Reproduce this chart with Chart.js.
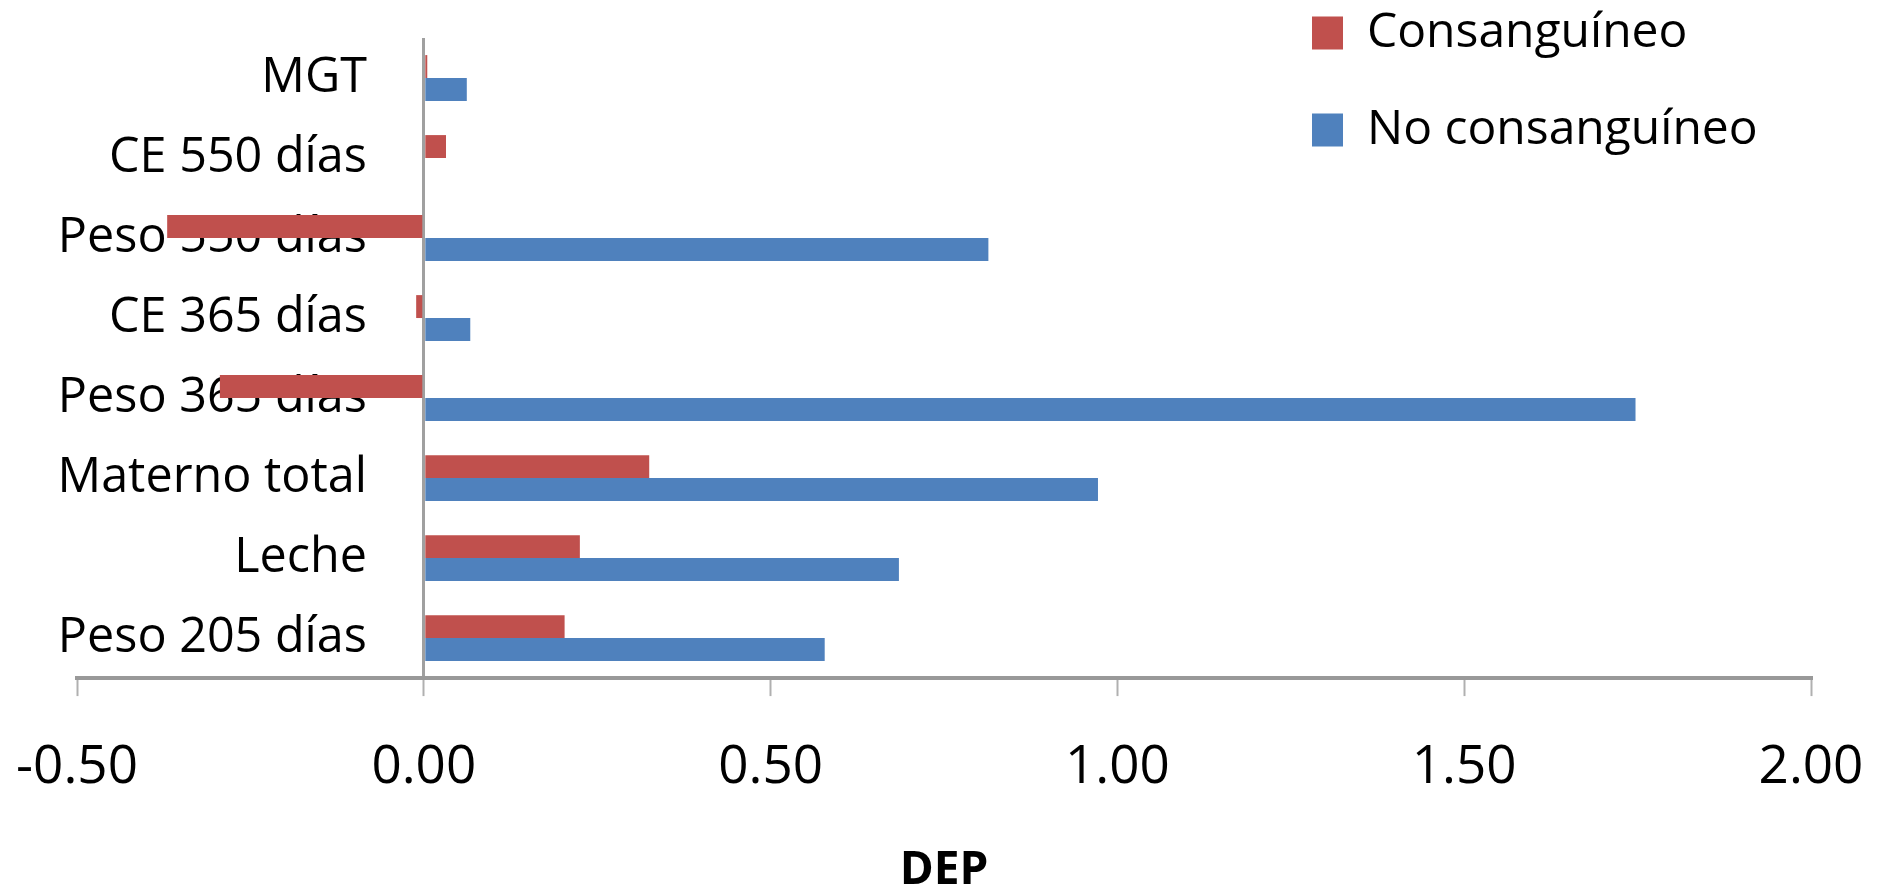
<!DOCTYPE html>
<html>
<head>
<meta charset="utf-8">
<script src="https://cdn.jsdelivr.net/npm/chart.js@4/dist/chart.umd.min.js"></script>
<style>
  html, body { margin: 0; padding: 0; background: #fff; }
  #wrap { width: 1881px; height: 894px; }
</style>
</head>
<body>
<div id="wrap"><canvas id="barChart" width="1881" height="894"></canvas></div>
<script>
// categories, top to bottom as in the figure
const LABELS = ["MGT", "CE 550 días", "Peso 550 días", "CE 365 días", "Peso 365 días", "Materno total", "Leche", "Peso 205 días"]
const CONSANG = [0.005, 0.032, -0.370, -0.011, -0.294, 0.325, 0.225, 0.203]
const NO_CONSANG = [0.062, 0, 0.814, 0.067, 1.747, 0.972, 0.685, 0.578]
const X_TICKS = [-0.5, 0, 0.5, 1.0, 1.5, 2.0]

Chart.defaults.font.family = "'Open Sans', 'DejaVu Sans', sans-serif"
Chart.defaults.color = "#000"

// legend floats over the plot, top right
const moveLegend = {
    id: "moveLegend",
    beforeDraw(chart) {
        const lg = chart.legend
        lg.left = 1263
        lg.top = -40
        lg.bottom = 500
        lg.right = 1881
    }
}

const ctx = document.getElementById("barChart").getContext("2d")
const myBar = new Chart(ctx, {
    type: "bar",
    data: {
        labels: LABELS,
        datasets: [{
            label: "Consanguíneo",
            data: CONSANG,
            backgroundColor: "#C0504D",
            categoryPercentage: 0.573,
            barPercentage: 1
        }, {
            label: "No consanguíneo",
            data: NO_CONSANG,
            backgroundColor: "#4F81BD",
            categoryPercentage: 0.573,
            barPercentage: 1
        }]
    },
    options: {
        indexAxis: "y",
        responsive: false,
        animation: false,
        layout: { padding: { left: 77, right: 70, top: 38, bottom: 0 } },
        plugins: {
            legend: {
                position: "chartArea",
                align: "start",
                labels: {
                    boxWidth: 31,
                    boxHeight: 33,
                    padding: 49,
                    font: { size: 48 },
                    color: "#000"
                }
            },
            tooltip: { enabled: false }
        },
        scales: {
            x: {
                type: "linear",
                min: -0.5,
                max: 2,
                afterBuildTicks: (axis) => { axis.ticks = X_TICKS.map(v => ({ value: v })) },
                border: { display: true, color: "#999", width: 4 },
                grid: {
                    color: (c) => (c.tick && c.tick.value === 0) ? "#a0a0a0" : "rgba(0,0,0,0)",
                    lineWidth: 3,
                    tickColor: "#b0b0b0",
                    tickWidth: 2,
                    tickLength: 18
                },
                ticks: {
                    padding: 2,
                    font: { size: 53, lineHeight: 2.64 },
                    color: "#000",
                    callback: (v) => Number(v).toFixed(2)
                },
                title: {
                    display: true,
                    text: "DEP",
                    font: { size: 46, weight: "bold", lineHeight: 1 },
                    color: "#000",
                    padding: { top: 8, bottom: 0 }
                }
            },
            y: {
                type: "category",
                position: { x: -0.082 },
                z: 1,
                grid: { display: false },
                border: { display: false },
                ticks: {
                    font: { size: 48.5 },
                    color: "#000"
                }
            }
        }
    },
    plugins: [moveLegend]
})
</script>
</body>
</html>
